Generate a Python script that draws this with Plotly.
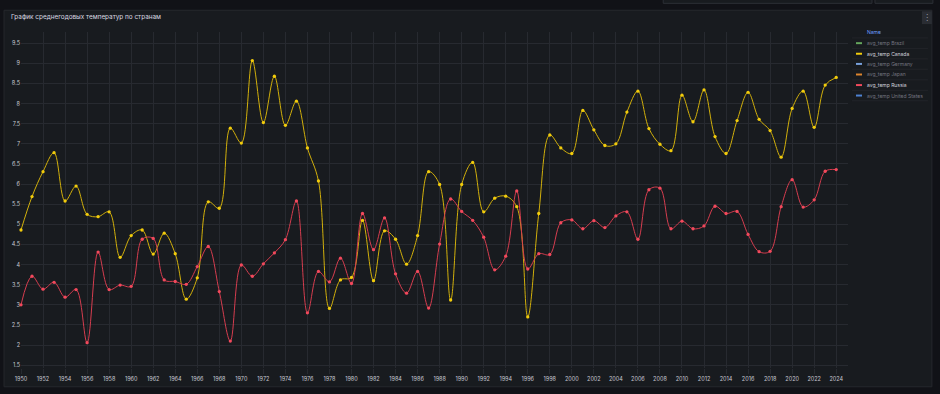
import plotly.graph_objects as go

years = list(range(1950, 2025))

canada = [4.86, 5.69, 6.31, 6.78, 5.58, 5.95, 5.25, 5.19, 5.31, 4.18,
          4.72, 4.86, 4.26, 4.78, 4.27, 3.14, 3.67, 5.56, 5.40, 7.39,
          7.02, 9.07, 7.53, 8.68, 7.46, 8.06, 6.90, 6.08, 2.91, 3.62,
          3.68, 5.10, 3.60, 4.84, 4.63, 4.01, 4.72, 6.31, 5.99, 3.12,
          5.99, 6.54, 5.31, 5.65, 5.70, 5.44, 2.70, 5.27, 7.22, 6.90,
          6.76, 7.83, 7.35, 6.96, 7.00, 7.79, 8.31, 7.38, 6.99, 6.83,
          8.21, 7.55, 8.34, 7.18, 6.76, 7.58, 8.28, 7.61, 7.33, 6.67,
          7.88, 8.31, 7.41, 8.46, 8.65]

russia = [3.00, 3.71, 3.39, 3.56, 3.19, 3.38, 2.06, 4.31, 3.38, 3.49,
          3.46, 4.63, 4.65, 3.62, 3.58, 3.51, 3.95, 4.45, 3.33, 2.10,
          3.99, 3.71, 4.02, 4.29, 4.62, 5.58, 2.80, 3.83, 3.57, 4.16,
          3.53, 5.27, 4.37, 5.16, 3.77, 3.29, 3.83, 2.92, 4.51, 5.63,
          5.32, 5.10, 4.68, 3.87, 4.21, 5.83, 3.89, 4.27, 4.25, 5.04,
          5.11, 4.89, 5.09, 4.92, 5.21, 5.31, 4.63, 5.86, 5.90, 4.89,
          5.08, 4.89, 4.96, 5.45, 5.27, 5.32, 4.75, 4.32, 4.33, 5.44,
          6.11, 5.43, 5.61, 6.32, 6.36]

legend_names = ["avg_temp Brazil", "avg_temp Canada", "avg_temp Germany",
                "avg_temp Japan", "avg_temp Russia", "avg_temp United States"]
legend_colors = ["#73bf69", "#f2cc0c", "#8ab8ff", "#ff9830", "#f2495c", "#5794f2"]
legend_visible = [False, True, False, False, True, False]

y_ticks = [1.5 + 0.5 * i for i in range(17)]
x_ticks = list(range(1950, 2025, 2))

title = "График среднегодовых температур по странам"

W, H = 940, 394
L, R, T, B = 20, 848, 32, 372


def px(x):
    return (x - L) / (R - L)


def py(y):
    return (B - y) / (B - T)


fig = go.Figure()
fig.add_trace(go.Scatter(
    x=years, y=canada, mode="lines+markers", name="avg_temp Canada",
    line=dict(color="#d2b00b", width=1, shape="spline", smoothing=1),
    marker=dict(size=3.3, color="#f2cc0c"), cliponaxis=False))
fig.add_trace(go.Scatter(
    x=years, y=russia, mode="lines+markers", name="avg_temp Russia",
    line=dict(color="#d63d4f", width=1, shape="spline", smoothing=1),
    marker=dict(size=3.3, color="#f2495c"), cliponaxis=False))

shapes = []
annotations = []

# panel
shapes.append(dict(type="rect", xref="paper", yref="paper",
                   x0=px(3), x1=px(932), y0=py(391), y1=py(10),
                   fillcolor="#181b1f", line=dict(color="#26282d", width=1),
                   layer="below"))
# top-right controls
shapes.append(dict(type="rect", xref="paper", yref="paper",
                   x0=px(663), x1=px(872), y0=py(3), y1=py(-3),
                   fillcolor="#181b1f", line=dict(color="#2c2f35", width=1),
                   layer="below"))
shapes.append(dict(type="rect", xref="paper", yref="paper",
                   x0=px(875), x1=px(933), y0=py(3), y1=py(-3),
                   fillcolor="#181b1f", line=dict(color="#2c2f35", width=1),
                   layer="below"))
# menu button
shapes.append(dict(type="rect", xref="paper", yref="paper",
                   x0=px(922), x1=px(932), y0=py(24), y1=py(11),
                   fillcolor="#2a2d33", line=dict(width=0), layer="above"))
annotations.append(dict(xref="paper", yref="paper", x=px(927), y=py(17.5),
                        text="⋮", showarrow=False,
                        font=dict(size=8, color="#9fa0aa", family="DejaVu Sans"),
                        xanchor="center", yanchor="middle"))

# title
annotations.append(dict(xref="paper", yref="paper", x=px(8), y=py(17),
                        text=title, showarrow=False,
                        font=dict(size=6.4, color="#d8d9e0", family="Inter"),
                        xanchor="left", yanchor="middle"))

# legend table
annotations.append(dict(xref="paper", yref="paper", x=px(865), y=py(32.5),
                        text="Name", showarrow=False,
                        font=dict(size=5, color="#6e9fff", family="Inter"),
                        xanchor="left", yanchor="middle"))
row_y = [43.3, 54.0, 64.3, 75.0, 85.7, 96.3]
sep_y = [38.0, 48.6, 59.2, 69.7, 80.4, 91.0, 101.6]
for sy in sep_y:
    shapes.append(dict(type="line", xref="paper", yref="paper",
                       x0=px(852), x1=px(928), y0=py(sy), y1=py(sy),
                       line=dict(color="#222429", width=1)))
for name, col, vis, ry in zip(legend_names, legend_colors, legend_visible, row_y):
    shapes.append(dict(type="rect", xref="paper", yref="paper",
                       x0=px(856), x1=px(862), y0=py(ry + 1), y1=py(ry - 1),
                       fillcolor=col, line=dict(width=0),
                       opacity=1 if vis else 0.85))
    annotations.append(dict(xref="paper", yref="paper", x=px(865), y=py(ry),
                            text=name, showarrow=False,
                            font=dict(size=5,
                                      color="#d2d3dc" if vis else "#73747f",
                                      family="Inter"),
                            xanchor="left", yanchor="middle"))

fig.update_layout(
    width=W, height=H,
    margin=dict(l=L, r=W - R, t=T, b=H - B),
    paper_bgcolor="#111217",
    plot_bgcolor="#181b1f",
    showlegend=False,
    shapes=shapes,
    annotations=annotations,
    font=dict(family="Inter", color="#c7c8d2", size=6),
    xaxis=dict(range=[1950, 2025.07], tickvals=x_ticks,
               ticktext=[str(v) for v in x_ticks],
               showgrid=True, gridcolor="#272a30", gridwidth=1,
               zeroline=False, showline=False,
               ticks="outside", ticklen=5, tickcolor="#272a30",
               tickfont=dict(size=5.5, color="#c7c8d2")),
    yaxis=dict(range=[1.43, 9.78], tickvals=y_ticks,
               ticktext=[f"{v:g}" for v in y_ticks],
               showgrid=True, gridcolor="#272a30", gridwidth=1,
               zeroline=False, showline=False, ticks="",
               tickfont=dict(size=5.5, color="#c7c8d2")),
)

fig.write_html(
    "out.html",
    config={"displayModeBar": False},
    post_script="document.body.style.margin='0';"
                "document.body.style.background='#111217';"
                "document.body.style.overflow='hidden';",
)
